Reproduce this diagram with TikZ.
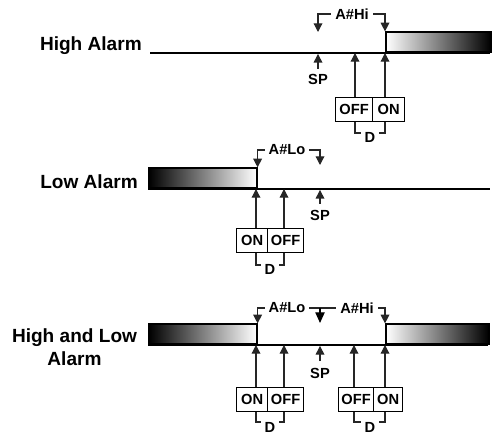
\documentclass[tikz,border=0pt]{standalone}
\usepackage{fontspec}
\setmainfont{Liberation Sans}
\usetikzlibrary{arrows.meta}
\begin{document}
\begin{tikzpicture}[x=0.75pt,y=-0.75pt,
  big/.style={font=\fontsize{14.3}{17.25}\selectfont\bfseries, inner sep=0pt},
  small/.style={font=\fontsize{11}{13}\selectfont\bfseries, inner sep=1pt},
  gap/.style={small, fill=white, inner xsep=3pt, inner ysep=1pt},
  axis/.style={line width=1.5pt},
  barbox/.style={draw, line width=1.2pt, minimum height=15pt, inner sep=0pt, anchor=south west},
  hibar/.style={barbox, left color=white, right color=black},
  lobar/.style={barbox, left color=black, right color=white},
  cell/.style={draw, line width=0.9pt, small, minimum height=18pt, inner sep=0pt, anchor=north west},
  upar/.style={line width=0.9pt, draw=black!85, -{Triangle[width=6.5pt,length=6.5pt]}},
  brk/.style={line width=0.9pt, draw=black!85},
  dnbrk/.style={brk, {Triangle[width=6.5pt,length=6.5pt]}-{Triangle[width=6.5pt,length=6.5pt]}},
  bigdn/.style={line width=0.9pt, -{Triangle[width=7pt,length=8pt]}}
]
\useasboundingbox (0,0) rectangle (492,434);

% ---------------- Panel 1: High Alarm ----------------
\node[big, anchor=east] (lab1) at (142,46) {High Alarm};
\coordinate (a1l) at (150,53);
\coordinate (a1r) at (490,53);
\draw[axis] (a1l) -- (a1r);
\node[hibar, minimum width=78.75pt] (bar1) at (385,53) {};
\coordinate (h-sp) at (318,53);
\coordinate (h-off) at (355,53);
\coordinate (h-on) at (385,53);
\node[cell, minimum width=27.75pt] (c1off) at (335,97) {OFF};
\node[cell, minimum width=24pt] (c1on) at (372,97) {ON};
\draw[upar] (h-off |- c1off.north) -- (h-off);
\draw[upar] (h-on |- c1on.north) -- (h-on);
\draw[upar] ([yshift=-12pt]h-sp) -- ([yshift=-0.7pt]h-sp);
\node[small] (sp1) at (318,79) {SP};
\draw[brk] (h-off |- c1off.south) |- (h-on |- 0,133) -- (h-on |- c1on.south);
\node[gap] (d1) at (370,137) {D};
\draw[dnbrk] (318,32) |- (350,14) -| (bar1.north west);
\node[gap] (hi1) at (352,14) {A\#Hi};

% ---------------- Panel 2: Low Alarm ----------------
\node[big, anchor=east] (lab2) at (138,182) {Low Alarm};
\coordinate (a2l) at (148,189);
\coordinate (a2r) at (490,189);
\draw[axis] (a2l) -- (a2r);
\node[lobar, minimum width=81pt] (bar2) at (148,189) {};
\coordinate (l-on) at (256,189);
\coordinate (l-off) at (284,189);
\coordinate (l-sp) at (320,189);
\node[cell, minimum width=23.25pt] (c2on) at (236,228) {ON};
\node[cell, minimum width=27pt] (c2off) at (267,228) {OFF};
\draw[upar] (l-on |- c2on.north) -- (l-on);
\draw[upar] (l-off |- c2off.north) -- (l-off);
\draw[upar] ([yshift=-11pt]l-sp) -- ([yshift=-0.7pt]l-sp);
\node[small] (sp2) at (320,215) {SP};
\draw[brk] (l-on |- c2on.south) |- (l-off |- 0,265) -- (l-off |- c2off.south);
\node[gap] (d2) at (270,269) {D};
\draw[dnbrk] (bar2.north east) |- (290,150) -| (320,165);
\node[gap] (lo2) at (287,150) {A\#Lo};

% ---------------- Panel 3: High and Low Alarm ----------------
\node[big, align=center] (lab3) at (74.5,347) {High and Low\\Alarm};
\coordinate (a3l) at (148,345);
\coordinate (a3r) at (488,345);
\draw[axis] (a3l) -- (a3r);
\node[lobar, minimum width=81pt] (bar3l) at (148,345) {};
\node[hibar, minimum width=77.25pt] (bar3r) at (385,345) {};
\coordinate (b-on1) at (256,345);
\coordinate (b-off1) at (284,345);
\coordinate (b-sp) at (320,345);
\coordinate (b-off2) at (354,345);
\coordinate (b-on2) at (385,345);
\node[cell, minimum width=23.25pt] (c3on) at (236,387) {ON};
\node[cell, minimum width=27pt] (c3off) at (267,387) {OFF};
\node[cell, minimum width=26.25pt] (c4off) at (338,387) {OFF};
\node[cell, minimum width=21.75pt] (c4on) at (373,387) {ON};
\draw[upar] (b-on1 |- c3on.north) -- (b-on1);
\draw[upar] (b-off1 |- c3off.north) -- (b-off1);
\draw[upar] (b-off2 |- c4off.north) -- (b-off2);
\draw[upar] (b-on2 |- c4on.north) -- (b-on2);
\draw[upar] ([yshift=-12pt]b-sp) -- ([yshift=-0.7pt]b-sp);
\node[small] (sp3) at (320,373) {SP};
\draw[brk] (b-on1 |- c3on.south) |- (b-off1 |- 0,422) -- (b-off1 |- c3off.south);
\node[gap] (d3) at (270,427) {D};
\draw[brk] (b-off2 |- c4off.south) |- (b-on2 |- 0,422) -- (b-on2 |- c4on.south);
\node[gap] (d4) at (370,427) {D};
\draw[dnbrk] (bar3l.north east) |- (320,308) -| (bar3r.north west);
\coordinate (tee) at (320,308);
\draw[bigdn] (tee) -- (320,323);
\node[gap] (lo3) at (287,308) {A\#Lo};
\node[gap] (hi3) at (357,308) {A\#Hi};
\end{tikzpicture}
\end{document}
